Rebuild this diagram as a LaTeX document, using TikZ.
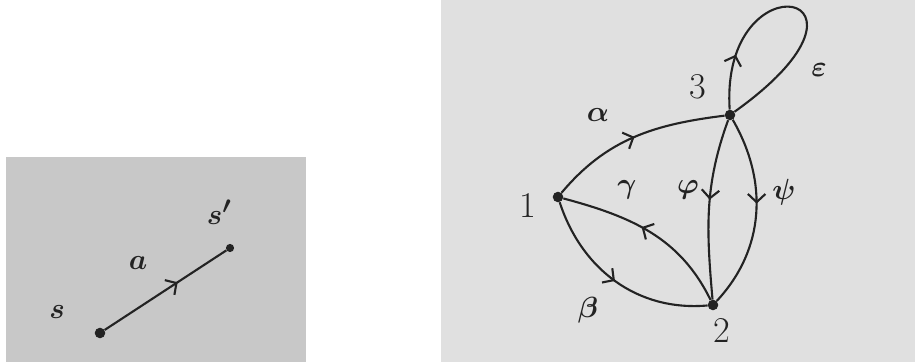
\documentclass[tikz,border=0pt]{standalone}
\usetikzlibrary{arrows.meta,decorations.markings}
\definecolor{ink}{RGB}{35,35,35}
\definecolor{paperL}{RGB}{200,200,200}
\definecolor{paperR}{RGB}{224,224,224}
\tikzset{
  dot/.style={circle,fill=ink,inner sep=0pt,minimum size=9pt},
  lbl/.style={text=ink,font=\fontsize{31}{33}\selectfont\boldmath},
  edge/.style={draw=ink,line width=1.8pt},
  midarrow/.style={postaction={decorate},decoration={markings,
      mark=at position #1 with {\arrow{Straight Barb[length=7pt,width=15pt,line width=1.8pt]}}}},
  midarrow/.default=0.5
}
\begin{document}
\begin{tikzpicture}[x=0.03cm,y=0.03cm]
  \useasboundingbox (0,0) rectangle (915,362);
  % photo backgrounds
  \fill[paperL] (6,0) rectangle (306,205);
  \fill[paperR] (441,0) rectangle (915,362);

  % left: one step s -> s'
  \node[dot] (s) at (100,29) {};
  \node[dot,minimum size=7pt] (s1) at (230,114) {};
  \draw[edge,midarrow=0.6] (s) -- (s1);
  \node[lbl] (ls) at (57,50) {$s$};
  \node[lbl] (la) at (138,99) {$a$};
  \node[lbl] (ls1) at (219,150) {$s'$};

  % right: graph with three states
  \node[dot] (n1) at (558,165) {};
  \node[dot] (n2) at (713,57) {};
  \node[dot] (n3) at (730,247) {};
  \node[lbl] (l1) at (528,157) {1};
  \node[lbl] (l2) at (722,32) {2};
  \node[lbl] (l3) at (698,275) {3};

  \draw[edge,midarrow=0.5] (n1) to[out=50,in=187] (n3);
  \draw[edge,midarrow=0.5] (n1) to[out=-72,in=185] (n2);
  \draw[edge,midarrow=0.55] (n2) to[out=116,in=-15] (n1);
  \draw[edge,midarrow=0.45] (n3) to[out=250,in=95] (n2);
  \draw[edge,midarrow=0.45] (n3) to[out=-60,in=47] (n2);
  \draw[edge,midarrow=0.2] (n3) .. controls +(-10,160) and +(175,125) .. (n3);

  \node[lbl] (lal) at (598,247) {$\alpha$};
  \node[lbl] (lbe) at (588,52) {$\beta$};
  \node[lbl] (lga) at (627,172) {$\gamma$};
  \node[lbl] (lph) at (688,172) {$\varphi$};
  \node[lbl] (lps) at (784,170) {$\psi$};
  \node[lbl] (lep) at (819,292) {$\varepsilon$};
\end{tikzpicture}
\end{document}
